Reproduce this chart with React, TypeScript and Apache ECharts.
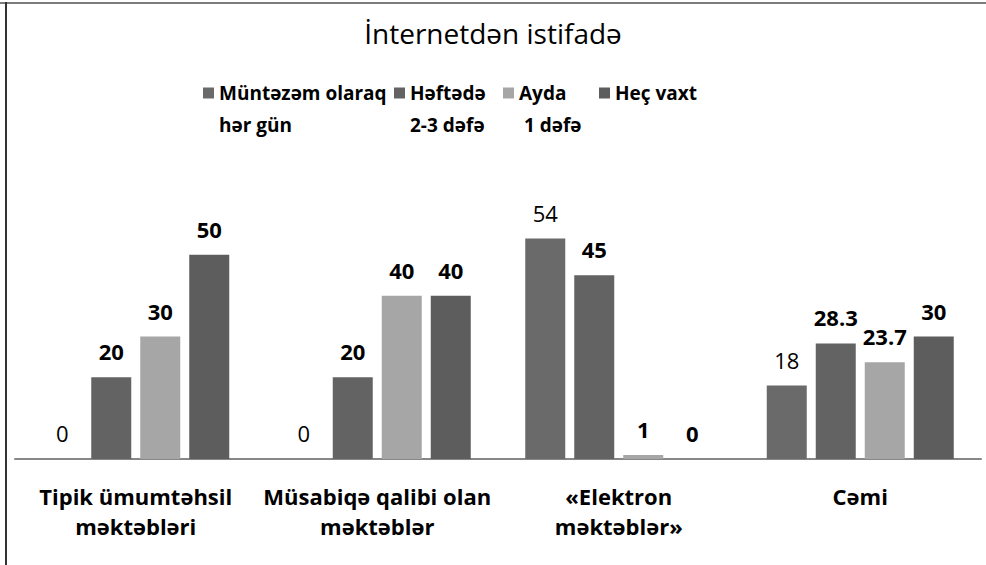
import React, { useEffect, useRef } from "react";
import * as echarts from "echarts";

const categories = [
  "Tipik ümumtəhsil\nməktəbləri",
  "Müsabiqə qalibi olan\nməktəblər",
  "«Elektron\nməktəblər»",
  "Cəmi",
];
const seriesNames = [
  "Müntəzəm olaraq\nhər gün",
  "Həftədə\n2-3 dəfə",
  "Ayda\n 1 dəfə",
  "Heç vaxt",
];
const daily = [0, 0, 54, 18];
const weekly = [20, 20, 45, 28.3];
const monthly = [30, 40, 1, 23.7];
const never = [50, 40, 0, 30];

const colors = ["#6a6a6a", "#636363", "#a6a6a6", "#5d5d5d"];
const FONT = "'Open Sans', sans-serif";

export default function App() {
  const ref = useRef<HTMLDivElement>(null);
  useEffect(() => {
    if (!ref.current) return;
    const chart = echarts.init(ref.current, null, { renderer: "svg" });
    const values = [daily, weekly, monthly, never];
    const legendLeft = [203, 394, 503, 599];
    const LH = 32;
    const ICON_Y = 93;
    const legends = seriesNames.map((name, i) => {
      const twoLine = name.indexOf("\n") >= 0;
      return {
        data: [name],
        left: legendLeft[i],
        top: twoLine ? ICON_Y - LH * 1.5 : ICON_Y - LH / 2,
        padding: 0,
        itemWidth: 11,
        itemHeight: 11,
        itemGap: 5,
        icon: "rect",
        selectedMode: false,
        formatter: (n: string) => (n.indexOf("\n") >= 0 ? " \n" + n : n),
        textStyle: {
          fontFamily: FONT,
          fontSize: 19,
          fontWeight: "bold",
          color: "#000",
          lineHeight: LH,
        },
      };
    });
    chart.setOption({
      animation: false,
      textStyle: { fontFamily: FONT },
      title: {
        text: "İnternetdən istifadə",
        left: "center",
        top: 14,
        textStyle: { fontFamily: FONT, fontSize: 28, fontWeight: "normal", color: "#000" },
      },
      legend: legends,
      grid: { left: 15, right: 5, top: 214, bottom: 106, containLabel: false },
      xAxis: {
        type: "category",
        data: categories,
        axisLine: { lineStyle: { color: "#878787", width: 2 } },
        axisTick: { show: false },
        axisLabel: {
          interval: 0,
          fontFamily: FONT,
          fontSize: 22,
          fontWeight: "bold",
          color: "#000",
          lineHeight: 30,
          margin: 22,
        },
      },
      yAxis: { type: "value", min: 0, max: 60, show: false, splitLine: { show: false } },
      series: seriesNames.map((name, i) => ({
        name,
        type: "bar",
        data: values[i],
        barWidth: 40,
        barGap: "22.5%",
        itemStyle: { color: colors[i] },
        label: {
          show: true,
          position: "top",
          distance: 15,
          fontFamily: FONT,
          fontSize: 22,
          fontWeight: i === 0 ? "normal" : "bold",
          color: "#000",
        },
      })),
      graphic: [
        { type: "rect", shape: { x: 0, y: 2, width: 986, height: 2 }, style: { fill: "#7d7d7d" }, silent: true },
        { type: "rect", shape: { x: 5, y: 2, width: 2, height: 563 }, style: { fill: "#333" }, silent: true },
      ],
    });
    return () => chart.dispose();
  }, []);
  return <div ref={ref} style={{ width: 986, height: 565, position: "absolute", left: 0, top: 0 }} />;
}
